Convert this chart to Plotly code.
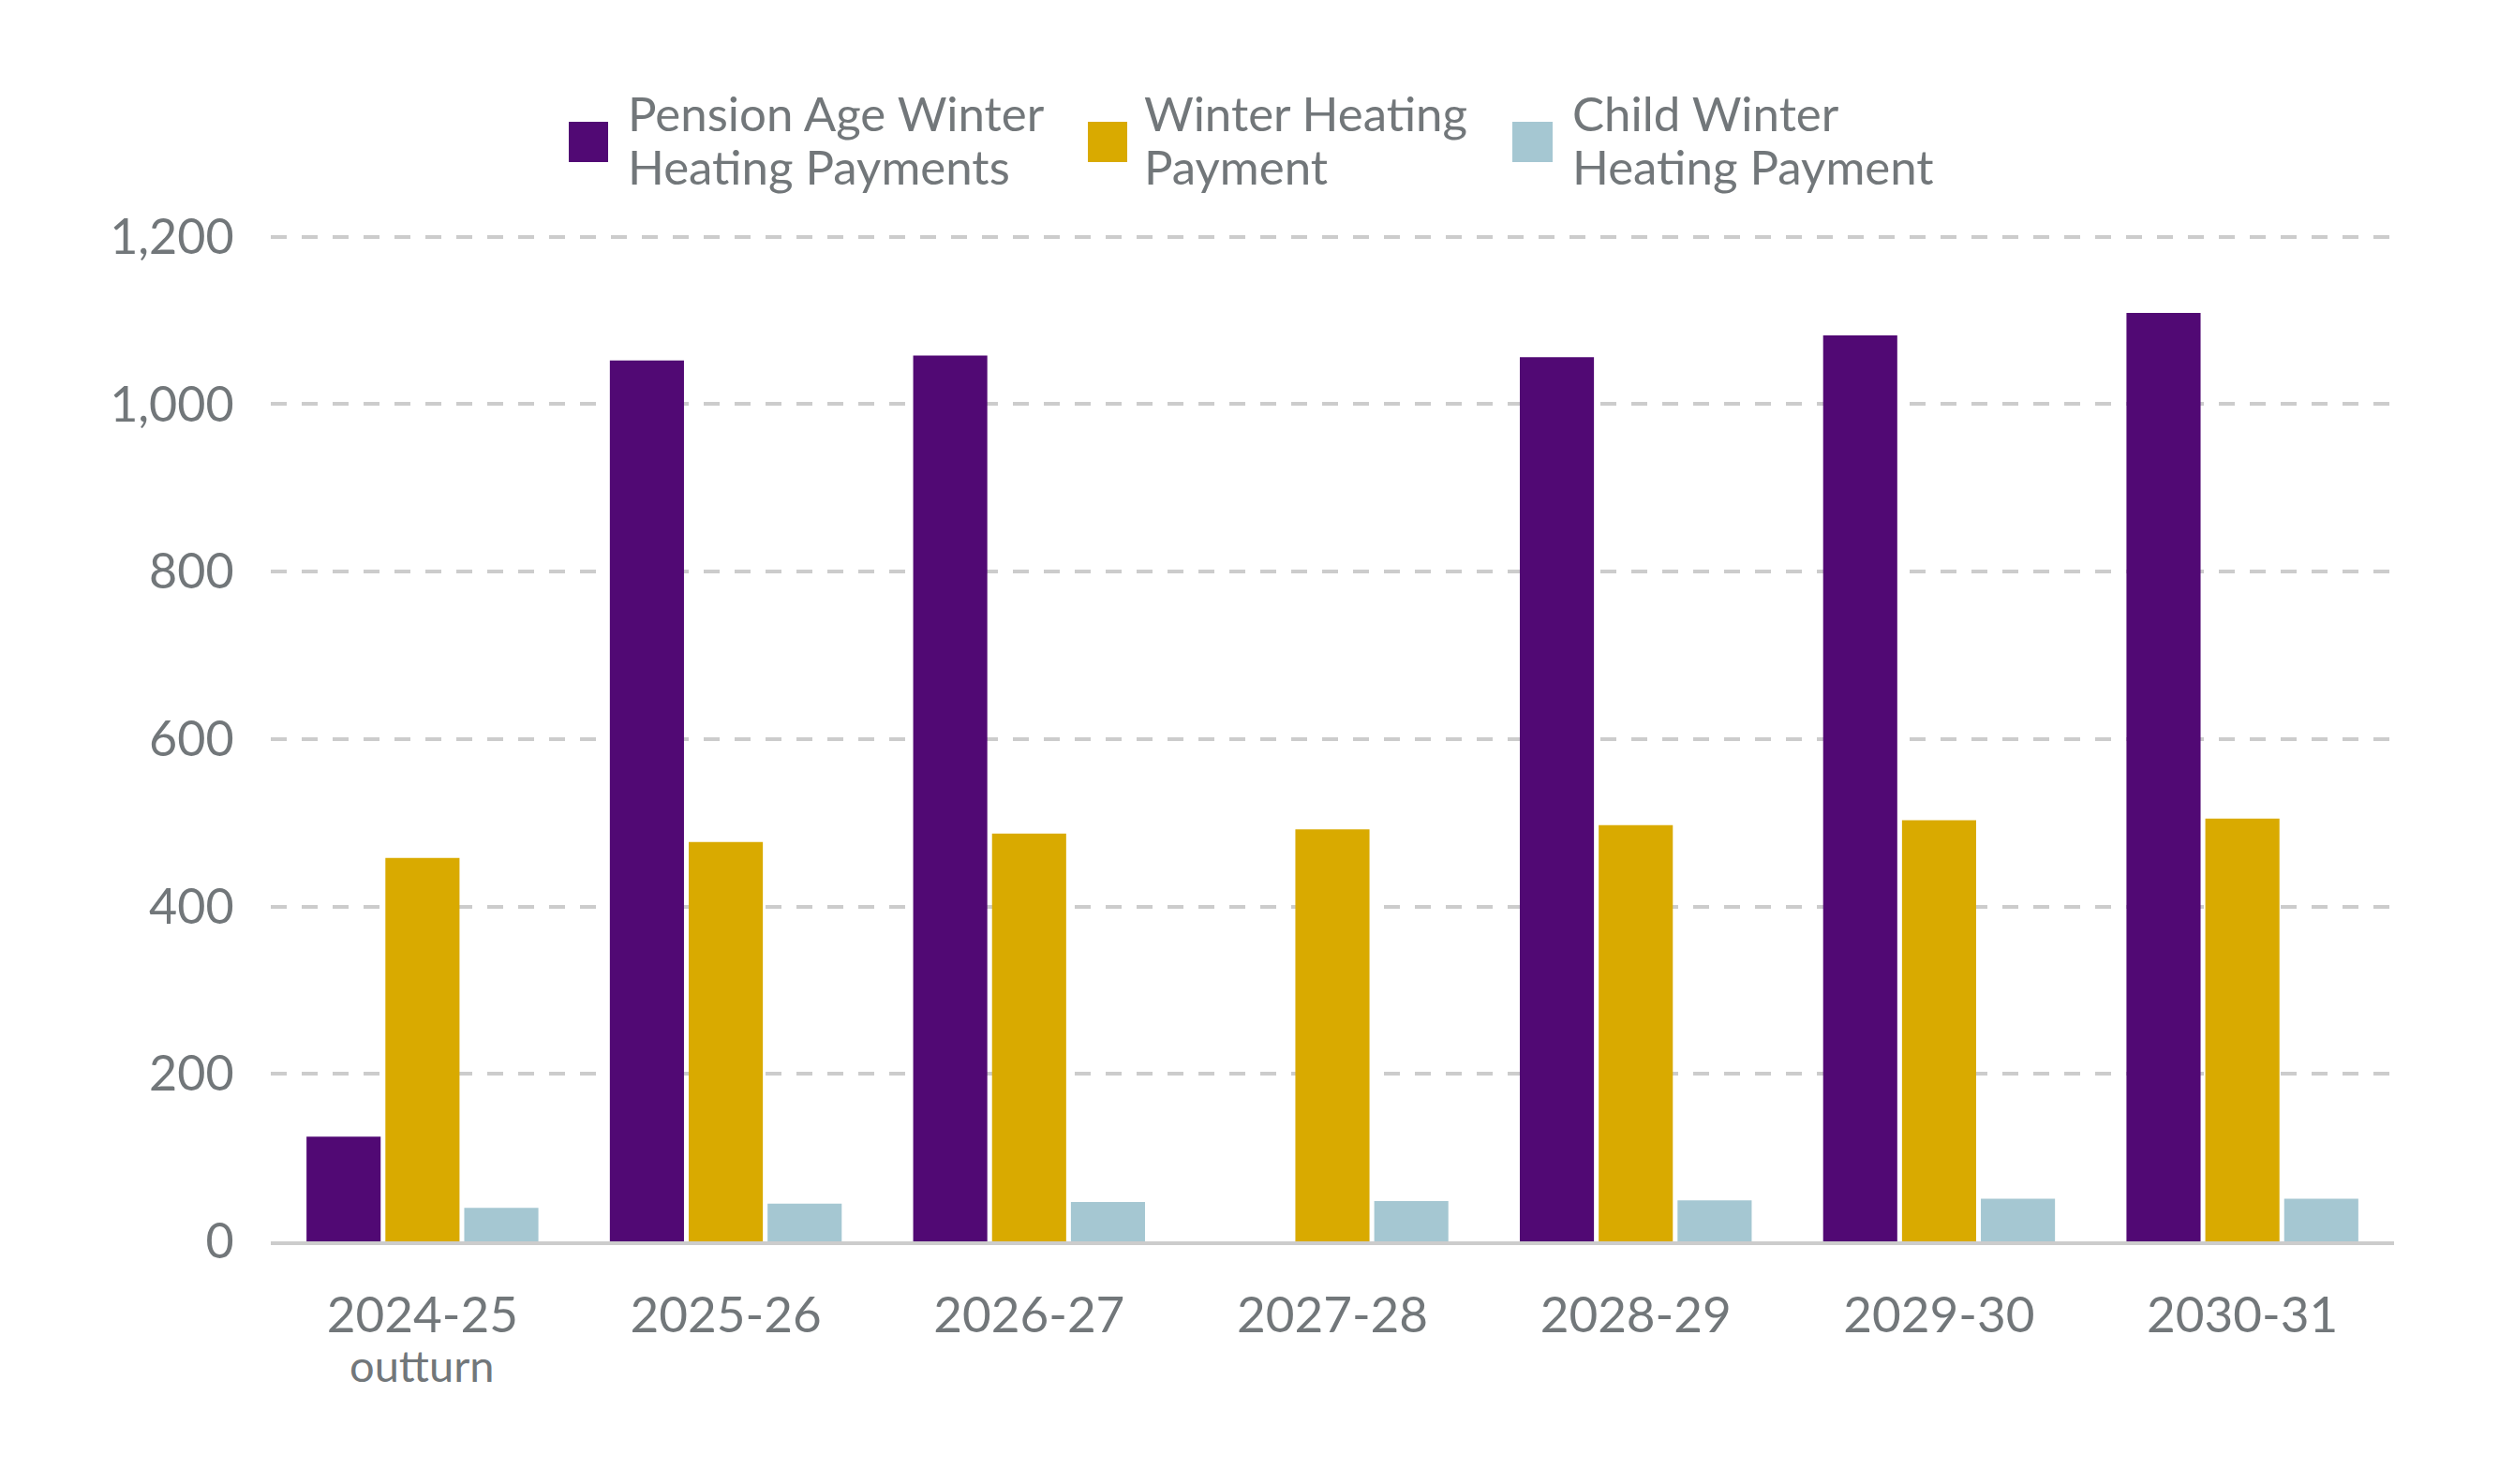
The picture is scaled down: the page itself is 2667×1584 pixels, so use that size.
import plotly.graph_objects as go

# ---- data ----
categories = ["2024-25", "2025-26", "2026-27", "2027-28", "2028-29", "2029-30", "2030-31"]
category_notes = ["outturn", "", "", "", "", "", ""]
series_names = [["Pension Age Winter", "Heating Payments"], ["Winter Heating", "Payment"],
                ["Child Winter", "Heating Payment"]]
pension_age = [125, 1052, 1058, None, 1056, 1082, 1109]
winter_heating = [458, 477, 487, 492, 497, 503, 505]
child_winter = [40, 45, 47, 48, 49, 51, 51]
y_ticks = [0, 200, 400, 600, 800, 1000, 1200]

colors = ["#510974", "#d9aa00", "#a5c7d2"]
text_color = "#72777a"
font_family = "Lato, 'Open Sans', sans-serif"

W, H = 2667, 1584
L, R, T, B = 289, 112, 249, 259
pw, ph = W - L - R, H - T - B

def px_x(x):
    return (x - L) / pw

def px_y(y):
    return (H - B - y) / ph

fig = go.Figure()
for name, vals, col in zip(series_names, [pension_age, winter_heating, child_winter], colors):
    fig.add_trace(go.Bar(x=categories, y=vals, name=" ".join(name),
                         marker=dict(color=col, line=dict(width=0)), showlegend=False))

# manual legend (large square keys, two text lines each)
legend_sq = [(607, 649), (1161, 1203), (1614, 1657)]
legend_tx = [668, 1219, 1676]
for (x0, x1), tx, name, col in zip(legend_sq, legend_tx, series_names, colors):
    fig.add_shape(type="rect", xref="paper", yref="paper",
                  x0=px_x(x0), x1=px_x(x1), y0=px_y(173), y1=px_y(130),
                  fillcolor=col, line=dict(width=0))
    for line, yc in zip(name, [120, 177]):
        fig.add_annotation(xref="paper", yref="paper", x=px_x(tx), y=px_y(yc),
                           xanchor="left", yanchor="middle", align="left", showarrow=False,
                           text=line, font=dict(family=font_family, size=51, color=text_color))

# sub-labels under categories
for cat, note in zip(categories, category_notes):
    if note:
        fig.add_annotation(x=cat, xref="x", yref="paper", y=px_y(1457), yanchor="middle",
                           showarrow=False, text=note,
                           font=dict(family=font_family, size=47, color=text_color))

fig.update_layout(
    width=W, height=H,
    margin=dict(l=L, r=R, t=T, b=B),
    paper_bgcolor="white", plot_bgcolor="white",
    barmode="group", bargap=0.22, bargroupgap=0.06,
    font=dict(family=font_family, color=text_color),
    showlegend=False,
)
fig.update_xaxes(
    tickvals=categories, ticktext=categories,
    tickfont=dict(size=53, color=text_color, family=font_family),
    showline=True, linecolor="#cccccc", linewidth=4,
    showgrid=False, ticks="outside", ticklen=29, tickcolor="rgba(0,0,0,0)",
)
fig.update_yaxes(
    range=[0, 1204], tickvals=y_ticks, tickformat=",d",
    tickfont=dict(size=52, color=text_color, family=font_family),
    showgrid=True, gridcolor="#cccccc", gridwidth=3.5, griddash="17px,16px",
    zeroline=False, showline=False,
    ticks="outside", ticklen=28, tickcolor="rgba(0,0,0,0)",
)

fig.write_html("out.html")
